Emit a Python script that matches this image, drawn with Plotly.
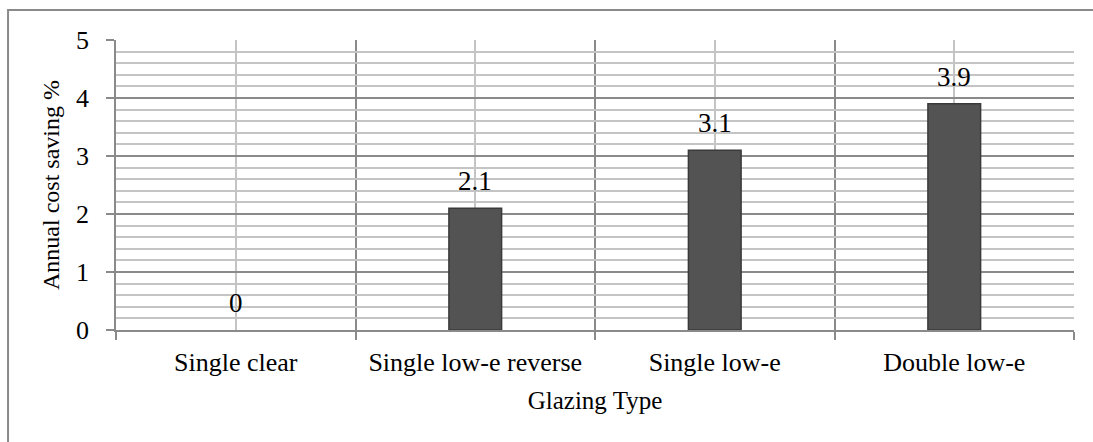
import plotly.graph_objects as go

# Annual cost saving by glazing type
categories = ["Single clear", "Single low-e reverse", "Single low-e", "Double low-e"]
savings = [0, 2.1, 3.1, 3.9]
y_ticks = [0, 1, 2, 3, 4, 5]

FONT = "Liberation Serif, Times New Roman, serif"
positions = list(range(len(categories)))
boundaries = [p - 0.5 for p in positions] + [positions[-1] + 0.5]

fig = go.Figure()
fig.add_trace(go.Bar(
    x=positions,
    y=savings,
    width=0.22,
    marker=dict(
        color="#535353",
        line=dict(color="#3a3a3a", width=[1.5 if v > 0 else 0 for v in savings]),
    ),
    hoverinfo="x+y",
    showlegend=False,
))

# value labels above each bar
for p, v in zip(positions, savings):
    fig.add_annotation(
        x=p, y=v, text=f"{v:g}", showarrow=False,
        xanchor="center", yanchor="bottom", yshift=10,
        font=dict(family=FONT, size=27, color="#000000"),
    )

# outer chart frame
fig.add_shape(
    type="rect", xref="paper", yref="paper",
    x0=-0.1127, x1=1.2, y0=-0.6, y1=1.1034,
    line=dict(color="#8a8a8a", width=2), fillcolor="rgba(0,0,0,0)",
    layer="below",
)

fig.update_layout(
    width=1093,
    height=442,
    margin=dict(l=116, r=19, t=40, b=112),
    paper_bgcolor="white",
    plot_bgcolor="white",
    font=dict(family=FONT, size=25, color="#000000"),
    xaxis=dict(
        range=[-0.5, len(categories) - 0.5],
        tickmode="array",
        tickvals=positions,
        ticktext=categories,
        ticks="",
        tickfont=dict(size=26),
        ticklabelstandoff=8,
        showgrid=True,
        gridcolor="#c4c4c4",
        gridwidth=1.5,
        minor=dict(
            tickmode="array",
            tickvals=boundaries,
            ticks="outside",
            ticklen=8,
            tickwidth=1.5,
            tickcolor="#8a8a8a",
            showgrid=True,
            gridcolor="#8a8a8a",
            gridwidth=1.5,
        ),
        showline=True,
        linecolor="#8a8a8a",
        linewidth=1.5,
        zeroline=False,
        title=dict(text="Glazing Type", font=dict(size=25), standoff=16),
        fixedrange=True,
    ),
    yaxis=dict(
        range=[0, 5],
        tickmode="array",
        tickvals=y_ticks,
        ticks="outside",
        ticklen=8,
        tickwidth=1.5,
        tickcolor="#8a8a8a",
        tickfont=dict(size=26),
        ticklabelstandoff=12,
        showgrid=True,
        gridcolor="#8a8a8a",
        gridwidth=1.5,
        minor=dict(dtick=0.2, showgrid=True, gridcolor="#c4c4c4", gridwidth=1.5),
        showline=True,
        linecolor="#8a8a8a",
        linewidth=1.5,
        zeroline=False,
        title=dict(text="Annual cost saving %", font=dict(size=24), standoff=10),
        fixedrange=True,
    ),
)

fig.write_html("out.html")
